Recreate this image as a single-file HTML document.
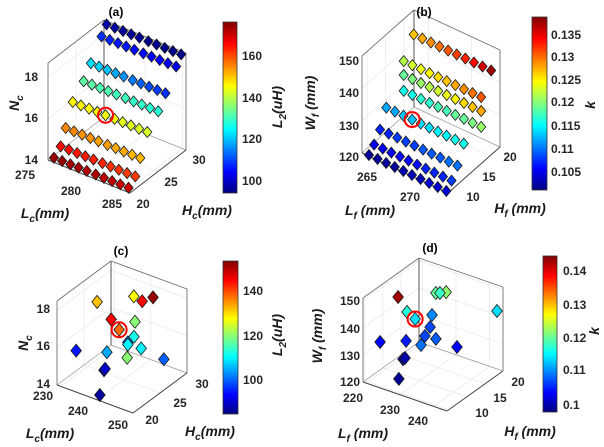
<!DOCTYPE html>
<html><head><meta charset="utf-8"><style>
html,body{margin:0;padding:0;background:#fff;}
svg{display:block;font-family:"Liberation Sans",Arial,sans-serif;}
.tk{font-size:12px;font-weight:bold;fill:#262626;}
.lb{font-size:14px;font-weight:bold;font-style:italic;fill:#1a1a1a;}
.tt{font-size:12px;font-weight:bold;fill:#000;}
</style></head><body>
<svg id="fig" width="604" height="447" viewBox="0 0 604 447">
<defs>
<linearGradient id="jet" x1="0" y1="1" x2="0" y2="0">
<stop offset="0" stop-color="#000080"/><stop offset="0.125" stop-color="#0000ff"/>
<stop offset="0.375" stop-color="#00ffff"/><stop offset="0.625" stop-color="#ffff00"/>
<stop offset="0.875" stop-color="#ff0000"/><stop offset="1" stop-color="#800000"/>
</linearGradient>
</defs>
<g id="plots"></g>
<g>
<text class="tt" x="116" y="16" text-anchor="middle">(a)</text>
<text class="tk" x="38" y="81" text-anchor="end">18</text>
<text class="tk" x="38" y="122" text-anchor="end">16</text>
<text class="tk" x="38" y="164" text-anchor="end">14</text>
<text class="tk" x="25" y="179" text-anchor="middle">275</text>
<text class="tk" x="71" y="195" text-anchor="middle">280</text>
<text class="tk" x="112" y="208" text-anchor="middle">285</text>
<text class="tk" x="143" y="208" text-anchor="middle">20</text>
<text class="tk" x="171" y="186" text-anchor="middle">25</text>
<text class="tk" x="199" y="164" text-anchor="middle">30</text>
<text class="tk" x="242" y="60">160</text><text class="tk" x="242" y="102">140</text>
<text class="tk" x="242" y="143">120</text><text class="tk" x="242" y="185">100</text>
<text class="lb" transform="translate(19,103) rotate(-90)" text-anchor="middle">N<tspan dy="4" font-size="10">c</tspan></text>
<text class="lb" x="45" y="218" text-anchor="middle">L<tspan dy="4" font-size="10">c</tspan><tspan dy="-4">(mm)</tspan></text>
<text class="lb" x="207" y="215" text-anchor="middle">H<tspan dy="4" font-size="10">c</tspan><tspan dy="-4">(mm)</tspan></text>
<text class="lb" transform="translate(282,107) rotate(-90)" text-anchor="middle">L<tspan dy="4" font-size="10">2</tspan><tspan dy="-4">(uH)</tspan></text>
</g>
<g>
<text class="tt" x="424" y="16" text-anchor="middle">(b)</text>
<text class="tk" x="359" y="65" text-anchor="end">150</text>
<text class="tk" x="359" y="97" text-anchor="end">140</text>
<text class="tk" x="359" y="130" text-anchor="end">130</text>
<text class="tk" x="359" y="161" text-anchor="end">120</text>
<text class="tk" x="367" y="181" text-anchor="middle">265</text>
<text class="tk" x="410" y="201" text-anchor="middle">270</text>
<text class="tk" x="510" y="161" text-anchor="middle">20</text>
<text class="tk" x="489" y="181" text-anchor="middle">15</text>
<text class="tk" x="473" y="201" text-anchor="middle">10</text>
<text class="tk" x="551" y="39">0.135</text><text class="tk" x="551" y="61">0.13</text>
<text class="tk" x="551" y="84">0.125</text><text class="tk" x="551" y="106">0.12</text>
<text class="tk" x="551" y="130">0.115</text><text class="tk" x="551" y="153">0.11</text>
<text class="tk" x="551" y="176">0.105</text>
<text class="lb" transform="translate(315,103) rotate(-90)" text-anchor="middle">W<tspan dy="4" font-size="10">f</tspan><tspan dy="-4"> (mm)</tspan></text>
<text class="lb" x="370" y="215" text-anchor="middle">L<tspan dy="4" font-size="10">f</tspan><tspan dy="-4"> (mm)</tspan></text>
<text class="lb" x="520" y="213" text-anchor="middle">H<tspan dy="4" font-size="10">f</tspan><tspan dy="-4"> (mm)</tspan></text>
<text class="lb" transform="translate(595,105) rotate(-90)" text-anchor="middle">k</text>
</g>
<g>
<text class="tt" x="121" y="255" text-anchor="middle">(c)</text>
<text class="tk" x="50" y="313" text-anchor="end">18</text>
<text class="tk" x="50" y="350" text-anchor="end">16</text>
<text class="tk" x="50" y="388" text-anchor="end">14</text>
<text class="tk" x="43" y="400" text-anchor="middle">230</text>
<text class="tk" x="78" y="415" text-anchor="middle">240</text>
<text class="tk" x="118" y="429" text-anchor="middle">250</text>
<text class="tk" x="152" y="424" text-anchor="middle">20</text>
<text class="tk" x="180" y="407" text-anchor="middle">25</text>
<text class="tk" x="202" y="388" text-anchor="middle">30</text>
<text class="tk" x="243" y="295">140</text><text class="tk" x="243" y="340">120</text>
<text class="tk" x="243" y="384">100</text>
<text class="lb" transform="translate(28,343) rotate(-90)" text-anchor="middle">N<tspan dy="4" font-size="10">c</tspan></text>
<text class="lb" x="50" y="438" text-anchor="middle">L<tspan dy="4" font-size="10">c</tspan><tspan dy="-4">(mm)</tspan></text>
<text class="lb" x="210" y="436" text-anchor="middle">H<tspan dy="4" font-size="10">c</tspan><tspan dy="-4">(mm)</tspan></text>
<text class="lb" transform="translate(282,335) rotate(-90)" text-anchor="middle">L<tspan dy="4" font-size="10">2</tspan><tspan dy="-4">(uH)</tspan></text>
</g>
<g>
<text class="tt" x="430" y="252" text-anchor="middle">(d)</text>
<text class="tk" x="360" y="305" text-anchor="end">150</text>
<text class="tk" x="360" y="333" text-anchor="end">140</text>
<text class="tk" x="360" y="360" text-anchor="end">130</text>
<text class="tk" x="360" y="386" text-anchor="end">120</text>
<text class="tk" x="353" y="402" text-anchor="middle">220</text>
<text class="tk" x="390" y="414" text-anchor="middle">230</text>
<text class="tk" x="418" y="425" text-anchor="middle">240</text>
<text class="tk" x="518" y="386" text-anchor="middle">20</text>
<text class="tk" x="500" y="402" text-anchor="middle">15</text>
<text class="tk" x="482" y="417" text-anchor="middle">10</text>
<text class="tk" x="563" y="275">0.14</text><text class="tk" x="563" y="309">0.13</text>
<text class="tk" x="563" y="342">0.12</text><text class="tk" x="563" y="374">0.11</text>
<text class="tk" x="563" y="409">0.1</text>
<text class="lb" transform="translate(322,336) rotate(-90)" text-anchor="middle">W<tspan dy="4" font-size="10">f</tspan><tspan dy="-4"> (mm)</tspan></text>
<text class="lb" x="363" y="438" text-anchor="middle">L<tspan dy="4" font-size="10">f</tspan><tspan dy="-4"> (mm)</tspan></text>
<text class="lb" x="530" y="436" text-anchor="middle">H<tspan dy="4" font-size="10">f</tspan><tspan dy="-4"> (mm)</tspan></text>
<text class="lb" transform="translate(599,331) rotate(-90)" text-anchor="middle">k</text>
</g>
</svg>
<script>
// ---- panel (a) data ----
const aL = [275,276.1,277.2,278.3,279.4,280.6,281.7,282.8,283.9,285];
const aH = [20.4,21.6,22.5,23.75,25.7,27,28.9,29.8];
const aN = [14.1,14.4,15.1,16.1,16.7,17.3,18.2,18.6];
const aV = [
 [174,174,173,173,172,172,171,171,170,170],
 [165,165,164,164,163,163,162,162,161,161],
 [155,155,154,154,153,153,152,152,151,151],
 [146,146,145,145,144,144,143,143,142,142],
 [132,132,131,131,130,130,129,129,128,128],
 [122,121,120,118,116,114,112,110,109,108],
 [108,107,106,106,105,105,104,104,103,103],
 [97,97,96,96,96,95,95,95,95,95]];
// ---- panel (b) data ----
const bL = [264,265,266,267,268,269,270,271,272,273];
const bH = [8.9,10.3,11.9,13.6,18.3,18.3,18.3,21.0];
const bW = [120,121.8,124.8,129.9,130.3,135.2,139.5,145];
const bV = [
 [0.102,0.102,0.102,0.102,0.103,0.103,0.103,0.104,0.104,0.104],
 [0.105,0.105,0.105,0.106,0.106,0.106,0.107,0.107,0.107,0.108],
 [0.107,0.107,0.108,0.108,0.108,0.109,0.109,0.109,0.110,0.110],
 [0.112,0.112,0.113,0.113,0.114,0.114,0.115,0.115,0.116,0.116],
 [0.116,0.116,0.117,0.117,0.118,0.118,0.119,0.119,0.120,0.121],
 [0.119,0.120,0.121,0.122,0.123,0.124,0.125,0.126,0.127,0.128],
 [0.122,0.123,0.124,0.125,0.126,0.127,0.128,0.129,0.130,0.131],
 [0.127,0.128,0.129,0.130,0.131,0.132,0.133,0.134,0.136,0.138]];
// ---- panel (c) data ----
const cL = [237.1,238.3,240.6,242.1,238,240.2,241.6,242.8,242.6,244.1,243.3,232.8,239.8,245.4,245.1,240.8,240.5,240.1];
const cH = [22,28,28,29,24,24,26,25,24,23,26,21,22,22,29,21,21,20.5];
const cN = [18.6,17.7,17.6,17.7,17.3,16.9,17.0,16.5,16.4,16.6,15.7,15.9,16.1,16.2,14.6,15.5,15.4,14.15];
const cV = [132,128,145,152,145,138,120,112,100,110,110,95,105,120,100,90,88,87];
// ---- panel (d) data ----
const dL = [224.6,229.4,230.6,230.3,226.2,228.6,230.4,242.75,221.4,228.05,230.9,231.5,233.7,232.5,238.9,229.9,229.3,228.6];
const dH = [14,20,20,22,15,15,18,24.5,12,13,17,15,16,13,17,11,11,10.5];
const dW = [149.5,147.3,147.8,146.1,143.7,142.1,141.5,142.1,133.4,135.7,138.2,137.1,136,136.1,134.3,132.1,131.4,124.3];
const dV = [0.143,0.120,0.118,0.122,0.117,0.114,0.110,0.114,0.104,0.105,0.107,0.107,0.108,0.109,0.104,0.100,0.099,0.099];

const aTL=[275,280,285], aTH=[20,25,30], aTZ=[14,16,18];
const bTL=[265,270], bTH=[10,15,20], bTZ=[120,130,140,150];
const cTL=[230,240,250], cTH=[20,25,30], cTZ=[14,16,18];
const dTL=[220,230,240], dTH=[10,15,20], dTZ=[120,130,140,150];

const NS='http://www.w3.org/2000/svg';
const root=document.getElementById('plots');
function jet(t){t=Math.max(0,Math.min(1,t));
 const c=v=>Math.round(255*Math.max(0,Math.min(1,v)));
 return 'rgb('+c(1.5-Math.abs(4*t-3))+','+c(1.5-Math.abs(4*t-2))+','+c(1.5-Math.abs(4*t-1))+')';}
function el(tag,attrs,parent){const e=document.createElementNS(NS,tag);for(const k in attrs)e.setAttribute(k,attrs[k]);(parent||root).appendChild(e);return e;}

function drawPanel(id,G,pts,TL,TH,TZ,circleIdx){
 const g=el('g',{});
 
 
 const P=(u,v,w)=>[G.x0+G.ex[0]*u+G.ey[0]*v, G.y0+G.ex[1]*u+G.ey[1]*v-G.h*w];
 const nu=L=>(L-G.rL[0])/(G.rL[1]-G.rL[0]);
 const nv=H=>(H-G.rH[0])/(G.rH[1]-G.rH[0]);
 const nw=Z=>(Z-G.rZ[0])/(G.rZ[1]-G.rZ[0]);
 const line=(a,b,col,wd,name)=>{const p=P(...a),q=P(...b);
  const l=el('line',{x1:p[0],y1:p[1],x2:q[0],y2:q[1],stroke:col,'stroke-width':wd},g);
  
  };
 const gc='#e4e4e4';
 TL.forEach(t=>{const u=nu(t);line([u,0,0],[u,1,0],gc,0.6,'grid-line');line([u,1,0],[u,1,1],gc,0.6,'grid-line');});
 TH.forEach(t=>{const v=nv(t);line([0,v,0],[1,v,0],gc,0.6,'grid-line');line([0,v,0],[0,v,1],gc,0.6,'grid-line');});
 TZ.forEach(t=>{const w=nw(t);line([0,0,w],[0,1,w],gc,0.6,'grid-line');line([0,1,w],[1,1,w],gc,0.6,'grid-line');});
 const bc='#707070';
 line([0,0,0],[0,1,0],'#9a9a9a',0.7,'box-edge');line([0,1,0],[1,1,0],'#9a9a9a',0.7,'box-edge');
 line([0,0,0],[0,0,1],bc,0.9,'z-axis');line([0,0,1],[0,1,1],bc,0.9,'box-edge');
 line([0,1,0],[0,1,1],'#555',1,'box-edge');line([0,1,1],[1,1,1],bc,0.9,'box-edge');
 line([1,1,0],[1,1,1],bc,0.9,'box-edge');
 line([0,0,0],[1,0,0],'#444',1,'x-axis');line([1,0,0],[1,1,0],'#444',1,'y-axis');
 const items=pts.map((p,i)=>({u:nu(p[0]),v:nv(p[1]),w:nw(p[2]),val:p[3],i}));
 items.sort((a,b)=>(a.u-a.v)-(b.u-b.v));
 const hw=G.mk[0], hh=G.mk[1];
 items.forEach(it=>{const [x,y]=P(it.u,it.v,it.w);
  const d=el('polygon',{points:`${x},${y-hh} ${x+hw},${y} ${x},${y+hh} ${x-hw},${y}`,fill:jet((it.val-G.cr[0])/(G.cr[1]-G.cr[0])),stroke:'#1a1a1a','stroke-width':0.8},g);
  
  });
 const cp=pts[circleIdx];const [cx,cy]=P(nu(cp[0]),nv(cp[1]),nw(cp[2]));
 const c=el('circle',{cx:cx,cy:cy,r:7.5,fill:'none',stroke:'#ff0000','stroke-width':2},g);
 
 
 const r=el('rect',{x:G.cb[0],y:G.cb[1],width:G.cb[2],height:G.cb[3],fill:'url(#jet)',stroke:'#333','stroke-width':0.8},g);
 
 
}
const GA={x0:48,y0:160,ex:[82,33],ey:[56,-43],h:97,rL:[274.5,285.5],rH:[20,30],rZ:[14,18.7],cr:[94,176],cb:[223,22,14,171],mk:[4.6,5.5]};
const GB={x0:362,y0:153,ex:[86,40],ey:[52,-46],h:97,rL:[263.3,273.3],rH:[8.65,22.7],rZ:[120,150],cr:[0.101,0.139],cb:[532,17,15,173],mk:[4.6,5.5]};
const GC={x0:57,y0:385,ex:[76,28],ey:[54,-40],h:84,rL:[229,250],rH:[20,30],rZ:[14,18.5],cr:[85,153.5],cb:[223,261,15,153],mk:[5.3,6.5]};
const GD={x0:363,y0:382,ex:[84,29],ey:[56,-40],h:84,rL:[219,244],rH:[9.5,25],rZ:[120,151],cr:[0.098,0.1445],cb:[543,256,14,156],mk:[5.3,6.5]};

const ptsA=[];aH.forEach((h,r)=>aL.forEach((l,i)=>ptsA.push([l,h,aN[r],aV[r][i]])));
const ptsB=[];bH.forEach((h,r)=>bL.forEach((l,i)=>ptsB.push([l,h,bW[r],bV[r][i]])));
const ptsC=cL.map((l,i)=>[l,cH[i],cN[i],cV[i]]);
const ptsD=dL.map((l,i)=>[l,dH[i],dW[i],dV[i]]);
drawPanel('a',GA,ptsA,aTL,aTH,aTZ,34);
drawPanel('b',GB,ptsB,bTL,bTH,bTZ,33);
drawPanel('c',GC,ptsC,cTL,cTH,cTZ,5);
drawPanel('d',GD,ptsD,dTL,dTH,dTZ,5);
</script>
</body></html>
